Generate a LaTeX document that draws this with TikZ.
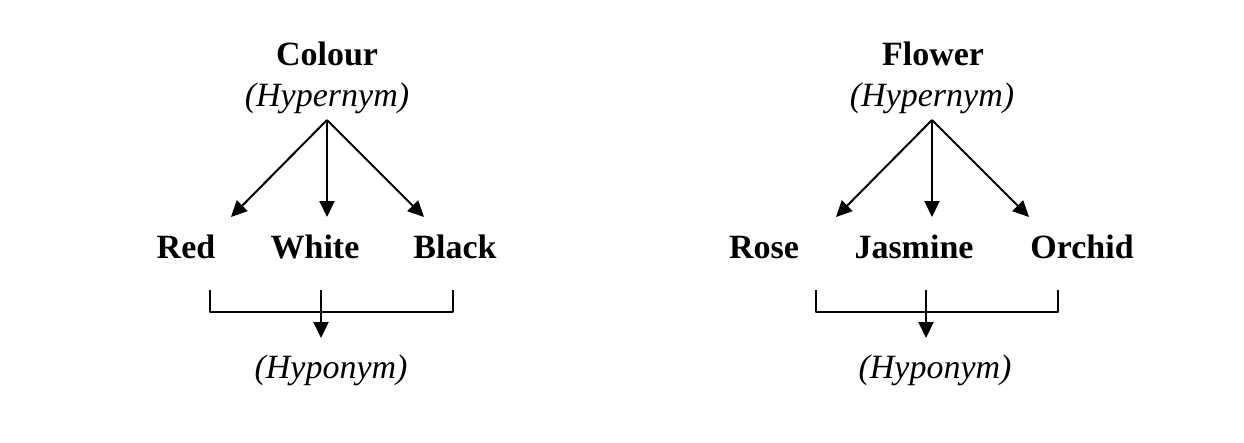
\documentclass[tikz,border=0pt]{standalone}
\usepackage{fontspec}
\setmainfont{Liberation Serif}
\usetikzlibrary{arrows.meta}
\begin{document}
\begin{tikzpicture}[x=1pt,y=-1pt,
  word/.style={font=\fontsize{34}{36}\selectfont\bfseries, anchor=base, inner sep=0pt},
  role/.style={font=\fontsize{34}{36}\selectfont\itshape, anchor=base, inner sep=0pt},
  link/.style={line width=2pt, -{Triangle[length=16pt,width=15pt]}},
  brace/.style={line width=2pt, line join=round}]
\useasboundingbox[fill=white] (0,0) rectangle (1244,442);
% left
\node[word] (colour) at (327,65) {Colour};
\node[role] (hyper1) at (327,106) {(Hypernym)};
\coordinate (o1) at (327,120);
\node[word] (red) at (186,258) {Red};
\node[word] (white) at (315,258) {White};
\node[word] (black) at (455,258) {Black};
\coordinate (t1a) at (231,217);
\coordinate (t1b) at (327,217);
\coordinate (t1c) at (424,217);
\draw[link] (o1) -- (t1a);
\draw[link] (o1) -- (t1b);
\draw[link] (o1) -- (t1c);
\coordinate (b1l) at (210,290);
\coordinate (b1r) at (453,290);
\coordinate (b1m) at (321,290);
\coordinate (b1t) at (321,338);
\draw[brace] (b1l) -- ++(0,22) -| (b1r);
\draw[link] (b1m) -- (b1t);
\node[role] (hypo1) at (331,378) {(Hyponym)};
% right
\node[word] (flower) at (933,65) {Flower};
\node[role] (hyper2) at (932,106) {(Hypernym)};
\coordinate (o2) at (932,120);
\node[word] (rose) at (764,258) {Rose};
\node[word] (jasmine) at (914,258) {Jasmine};
\node[word] (orchid) at (1082,258) {Orchid};
\coordinate (t2a) at (836,217);
\coordinate (t2b) at (932,217);
\coordinate (t2c) at (1029,217);
\draw[link] (o2) -- (t2a);
\draw[link] (o2) -- (t2b);
\draw[link] (o2) -- (t2c);
\coordinate (b2l) at (816,290);
\coordinate (b2r) at (1058,290);
\coordinate (b2m) at (926,290);
\coordinate (b2t) at (926,338);
\draw[brace] (b2l) -- ++(0,22) -| (b2r);
\draw[link] (b2m) -- (b2t);
\node[role] (hypo2) at (935,378) {(Hyponym)};
\end{tikzpicture}
\end{document}
